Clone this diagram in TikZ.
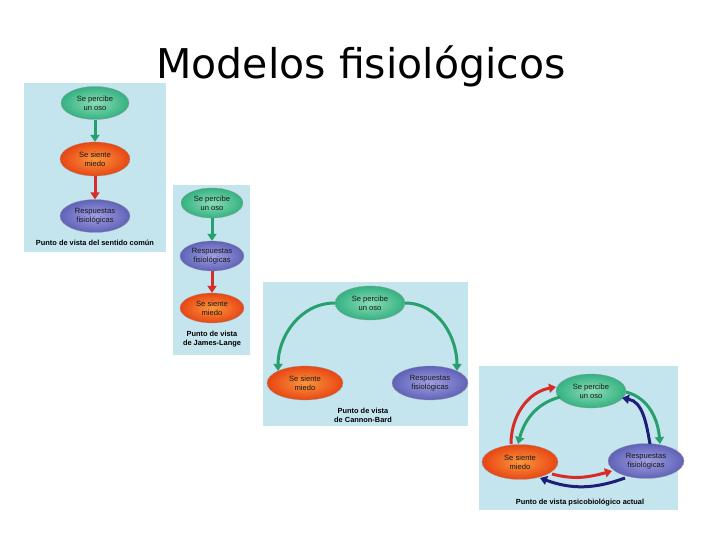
\documentclass[tikz,border=0pt]{standalone}
\usepackage{fontspec}
\setmainfont{Liberation Sans}
\newfontfamily\titlefont{DejaVu Sans}
\usetikzlibrary{arrows.meta,shapes.geometric}
\definecolor{panelbg}{RGB}{196,228,238}
\definecolor{ovgreen}{RGB}{52,178,130}
\definecolor{ovgreenlt}{RGB}{140,220,180}
\definecolor{ovred}{RGB}{232,70,20}
\definecolor{ovredlt}{RGB}{250,150,60}
\definecolor{ovblue}{RGB}{96,98,184}
\definecolor{ovbluelt}{RGB}{160,160,225}
\definecolor{argreen}{RGB}{40,160,110}
\definecolor{arred}{RGB}{215,45,40}
\definecolor{arblue}{RGB}{30,30,120}
\tikzset{
  panel/.style={fill=panelbg,draw=none},
  oval/.style={ellipse,draw=black!40,line width=0.3pt,minimum width=70pt,minimum height=34pt,inner sep=0pt,align=center,font=\fontsize{7.6}{8.6}\selectfont,text=black!90},
  gov/.style={oval,inner color=ovgreenlt,outer color=ovgreen},
  rov/.style={oval,inner color=ovredlt,outer color=ovred},
  bov/.style={oval,inner color=ovbluelt,outer color=ovblue},
  captxt/.style={align=center,font=\bfseries\fontsize{7.4}{9}\selectfont},
  arr/.style={line width=3pt,-{Triangle[length=7pt,width=9pt]}},
  garr/.style={arr,draw=argreen},
  rarr/.style={arr,draw=arred},
  barr/.style={arr,draw=arblue}
}
\begin{document}
\begin{tikzpicture}[x=1pt,y=-1pt]
\useasboundingbox (0,0) rectangle (720,540);
\fill[white] (0,0) rectangle (720,540);
\node[font=\titlefont\fontsize{41}{48}\selectfont] (title) at (361,66) {Modelos fisiológicos};
% panel 1
\fill[panel] (24,83) rectangle (166,252);
\node[gov,minimum width=68pt,minimum height=33pt] (g1) at (95,103) {Se percibe\\un oso};
\node[rov,minimum width=70pt,minimum height=34pt] (r1) at (95,159) {Se siente\\miedo};
\node[bov,minimum width=70pt,minimum height=33pt] (b1) at (95,216) {Respuestas\\fisiológicas};
\node[captxt] (c1) at (95,243) {Punto de vista del sentido común};
\draw[garr] (g1) -- (r1);
\draw[rarr] (r1) -- (b1);
% panel 2
\fill[panel] (173,185) rectangle (250,355);
\node[gov,minimum width=62pt,minimum height=30pt] (g2) at (212,203) {Se percibe\\un oso};
\node[bov,minimum width=64pt,minimum height=30pt] (b2) at (212,256) {Respuestas\\fisiológicas};
\node[rov,minimum width=64pt,minimum height=30pt] (r2) at (212,308) {Se siente\\miedo};
\node[captxt] (c2) at (212,339) {Punto de vista\\de James-Lange};
\draw[garr] (g2) -- (b2);
\draw[rarr] (b2) -- (r2);
% panel 3
\fill[panel] (263,282) rectangle (468,426);
\node[gov,minimum width=70pt,minimum height=34pt] (g3) at (370,303) {Se percibe\\un oso};
\node[rov,minimum width=76pt,minimum height=34pt] (r3) at (305,383) {Se siente\\miedo};
\node[bov,minimum width=76pt,minimum height=34pt] (b3) at (430,383) {Respuestas\\fisiológicas};
\node[captxt] (c3) at (363,415) {Punto de vista\\de Cannon-Bard};
\draw[garr] (g3.west) to[out=180,in=90] (r3.north west) ;
\draw[garr] (g3.east) to[out=0,in=90] (b3.north east);
% panel 4
\fill[panel] (479,366) rectangle (678,510);
\node[gov,minimum width=70pt,minimum height=34pt] (g4) at (591,391) {Se percibe\\un oso};
\node[rov,minimum width=76pt,minimum height=35pt] (r4) at (520,462) {Se siente\\miedo};
\node[bov,minimum width=76pt,minimum height=35pt] (b4) at (646,461) {Respuestas\\fisiológicas};
\node[captxt] (c4) at (580,503) {Punto de vista psicobiológico actual};
\coordinate (r4t) at (511,444);
\coordinate (r4ti) at (518,444);
\coordinate (g4l) at (556,387);
\coordinate (g4li) at (560,397);
\draw[rarr] (r4t) to[out=90,in=190] (g4l);
\draw[garr] (g4li) to[out=195,in=75] (r4ti);
\coordinate (g4r) at (626,392);
\coordinate (g4ri) at (622,398);
\coordinate (b4t) at (660,444);
\coordinate (b4ti) at (650,444);
\draw[garr] (g4r) to[out=-15,in=95] (b4t);
\draw[barr] (b4ti) to[out=100,in=-10] (g4ri);
\coordinate (r4b) at (552,474);
\coordinate (b4l) at (612,471);
\coordinate (b4b) at (625,478);
\coordinate (r4bb) at (540,478);
\draw[rarr] (r4b) to[out=-15,in=195] (b4l);
\draw[barr] (b4b) to[out=200,in=-20] (r4bb);
\end{tikzpicture}
\end{document}
